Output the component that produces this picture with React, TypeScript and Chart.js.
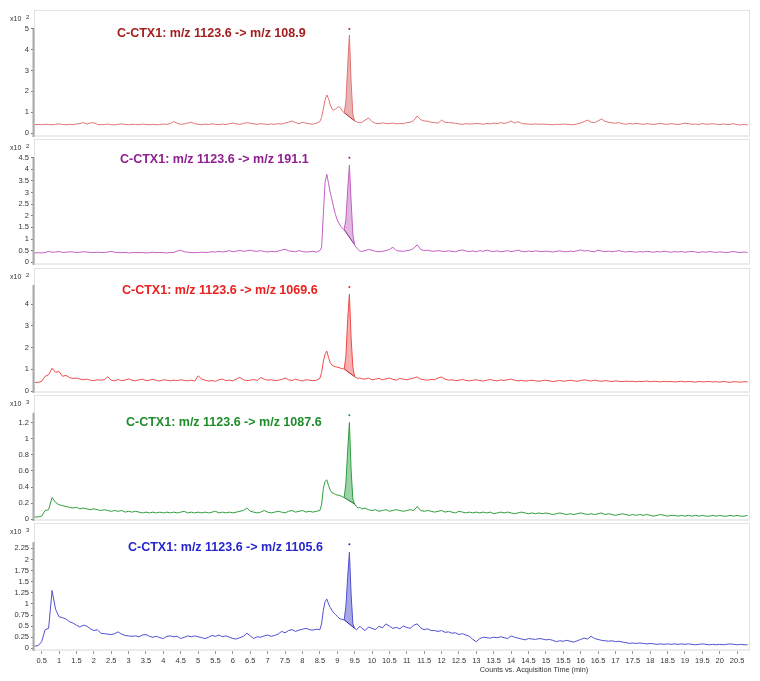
import React, { useEffect, useRef } from "react";
import { Chart, registerables } from "chart.js";
Chart.register(...registerables);

// ---------- DATA ----------
const times = [
  0.3, 0.4, 0.5, 0.6, 0.7, 0.8, 0.9, 1.0, 1.1, 1.2,
  1.3, 1.4, 1.5, 1.6, 1.7, 1.8, 1.9, 2.0, 2.1, 2.2,
  2.3, 2.4, 2.5, 2.6, 2.7, 2.8, 2.9, 3.0, 3.1, 3.2,
  3.3, 3.4, 3.5, 3.6, 3.7, 3.8, 3.9, 4.0, 4.1, 4.2,
  4.3, 4.4, 4.5, 4.6, 4.7, 4.8, 4.9, 5.0, 5.1, 5.2,
  5.3, 5.4, 5.5, 5.6, 5.7, 5.8, 5.9, 6.0, 6.1, 6.2,
  6.3, 6.4, 6.5, 6.6, 6.7, 6.8, 6.9, 7.0, 7.1, 7.2,
  7.3, 7.4, 7.5, 7.6, 7.7, 7.8, 7.9, 8.0, 8.1, 8.2,
  8.3, 8.4, 8.5,
  8.55, 8.6, 8.65, 8.7, 8.75, 8.8, 8.85, 8.9, 8.95, 9.0,
  9.05, 9.1, 9.15, 9.2, 9.25, 9.3, 9.35, 9.4, 9.45, 9.5,
  9.55, 9.6, 9.65, 9.7,
  9.8, 9.9, 10.0, 10.1, 10.2, 10.3, 10.4, 10.5, 10.6, 10.7,
  10.8, 10.9, 11.0, 11.1, 11.2, 11.3, 11.4, 11.5, 11.6, 11.7,
  11.8, 11.9, 12.0, 12.1, 12.2, 12.3, 12.4, 12.5, 12.6, 12.7,
  12.8, 12.9, 13.0, 13.1, 13.2, 13.3, 13.4, 13.5, 13.6, 13.7,
  13.8, 13.9, 14.0, 14.1, 14.2, 14.3, 14.4, 14.5, 14.6, 14.7,
  14.8, 14.9, 15.0, 15.1, 15.2, 15.3, 15.4, 15.5, 15.6, 15.7,
  15.8, 15.9, 16.0, 16.1, 16.2, 16.3, 16.4, 16.5, 16.6, 16.7,
  16.8, 16.9, 17.0, 17.1, 17.2, 17.3, 17.4, 17.5, 17.6, 17.7,
  17.8, 17.9, 18.0, 18.1, 18.2, 18.3, 18.4, 18.5, 18.6, 18.7,
  18.8, 18.9, 19.0, 19.1, 19.2, 19.3, 19.4, 19.5, 19.6, 19.7,
  19.8, 19.9, 20.0, 20.1, 20.2, 20.3, 20.4, 20.5, 20.6, 20.7,
  20.8,
];

// m/z 108.9 (x10^2)
const mz108 = [
  0.40, 0.41, 0.40, 0.42, 0.41, 0.40, 0.42, 0.44, 0.41, 0.40,
  0.42, 0.40, 0.43, 0.46, 0.50, 0.43, 0.48, 0.50, 0.42, 0.40,
  0.41, 0.43, 0.40, 0.39, 0.42, 0.44, 0.41, 0.40, 0.42, 0.41,
  0.40, 0.43, 0.41, 0.40, 0.42, 0.40, 0.41, 0.43, 0.42, 0.45,
  0.55, 0.47, 0.42, 0.44, 0.48, 0.52, 0.45, 0.42, 0.40, 0.43,
  0.41, 0.44, 0.42, 0.40, 0.43, 0.41, 0.45, 0.48, 0.44, 0.42,
  0.46, 0.50, 0.47, 0.44, 0.42, 0.45, 0.43, 0.41, 0.44, 0.42,
  0.45, 0.43, 0.48, 0.52, 0.58, 0.50, 0.45, 0.52, 0.47, 0.44,
  0.43, 0.47, 0.55,
  0.75, 1.15, 1.60, 1.83, 1.65, 1.35, 1.15, 1.10, 1.15, 1.22,
  1.27, 1.20, 1.05, 0.98, 1.50, 3.20, 4.71, 2.40, 0.90, 0.58,
  0.55, 0.50, 0.52, 0.50,
  0.62, 0.72, 0.55, 0.47, 0.45, 0.49, 0.46, 0.45, 0.48, 0.44,
  0.46, 0.45, 0.50, 0.52, 0.60, 0.82, 0.64, 0.58, 0.57, 0.52,
  0.50, 0.48, 0.62, 0.52, 0.50, 0.49, 0.47, 0.44, 0.42, 0.45,
  0.43, 0.44, 0.46, 0.45, 0.42, 0.46, 0.44, 0.48, 0.45, 0.50,
  0.46, 0.50, 0.58, 0.48, 0.55, 0.46, 0.44, 0.43, 0.42, 0.44,
  0.42, 0.43, 0.42, 0.41, 0.40, 0.42, 0.41, 0.43, 0.42, 0.41,
  0.40, 0.44, 0.48, 0.55, 0.62, 0.52, 0.50, 0.58, 0.68, 0.56,
  0.52, 0.49, 0.47, 0.50, 0.45, 0.42, 0.46, 0.43, 0.47, 0.44,
  0.42, 0.45, 0.43, 0.41, 0.44, 0.47, 0.43, 0.42, 0.45, 0.43,
  0.41, 0.44, 0.48, 0.45, 0.42, 0.43, 0.41, 0.46, 0.42, 0.43,
  0.45, 0.42, 0.40, 0.44, 0.41, 0.42, 0.45, 0.40, 0.39, 0.42,
  0.38,
];

// m/z 191.1 (x10^2)
const mz191 = [
  0.40, 0.41, 0.40, 0.42, 0.47, 0.43, 0.44, 0.46, 0.42, 0.43,
  0.45, 0.44, 0.42, 0.43, 0.45, 0.44, 0.42, 0.41, 0.43, 0.42,
  0.41, 0.44, 0.47, 0.43, 0.42, 0.41, 0.42, 0.40, 0.41, 0.42,
  0.41, 0.42, 0.40, 0.41, 0.43, 0.41, 0.42, 0.41, 0.40, 0.42,
  0.42, 0.48, 0.52, 0.45, 0.43, 0.42, 0.41, 0.42, 0.43, 0.42,
  0.43, 0.45, 0.44, 0.47, 0.44, 0.46, 0.50, 0.45, 0.48, 0.51,
  0.47, 0.49, 0.52, 0.48, 0.47, 0.50, 0.46, 0.44, 0.47, 0.45,
  0.48, 0.52, 0.56, 0.49, 0.47, 0.45, 0.50, 0.46, 0.44, 0.45,
  0.47, 0.44, 0.50,
  0.62, 2.05, 3.45, 3.79, 3.40, 3.00, 2.68, 2.35, 2.05, 1.82,
  1.68, 1.55, 1.46, 1.40, 1.85, 3.10, 4.19, 2.60, 1.20, 0.75,
  0.62, 0.55, 0.48, 0.46,
  0.50, 0.55, 0.52, 0.47, 0.45, 0.47, 0.50, 0.55, 0.65, 0.50,
  0.48, 0.47, 0.50, 0.52, 0.60, 0.75, 0.55, 0.50, 0.52, 0.48,
  0.47, 0.50, 0.48, 0.46, 0.49, 0.47, 0.45, 0.50, 0.53, 0.48,
  0.46, 0.48, 0.45, 0.50, 0.47, 0.52, 0.48, 0.46, 0.49, 0.45,
  0.47, 0.50, 0.46, 0.48, 0.52, 0.47, 0.45, 0.48, 0.46, 0.49,
  0.47, 0.45, 0.48, 0.46, 0.44, 0.47, 0.49, 0.46, 0.45, 0.48,
  0.46, 0.49, 0.53, 0.48, 0.50, 0.47, 0.45, 0.52, 0.48, 0.46,
  0.48, 0.45, 0.47, 0.50, 0.46, 0.44, 0.47, 0.45, 0.43, 0.46,
  0.44, 0.47, 0.45, 0.43, 0.46, 0.44, 0.48, 0.45, 0.43, 0.46,
  0.44, 0.46, 0.43, 0.45, 0.47, 0.44, 0.42, 0.45, 0.43, 0.46,
  0.44, 0.42, 0.45, 0.43, 0.41, 0.44, 0.46, 0.43, 0.42, 0.44,
  0.42,
];

// m/z 1069.6 (x10^2)
const mz1069 = [
  0.40, 0.40, 0.45, 0.68, 0.75, 1.05, 0.86, 0.90, 0.68, 0.72,
  0.62, 0.58, 0.60, 0.55, 0.52, 0.55, 0.50, 0.48, 0.52, 0.50,
  0.52, 0.66, 0.50, 0.47, 0.53, 0.48, 0.51, 0.56, 0.50, 0.47,
  0.52, 0.55, 0.48, 0.50, 0.54, 0.49, 0.46, 0.52, 0.50, 0.47,
  0.50, 0.48, 0.52, 0.49, 0.47, 0.50, 0.46, 0.70, 0.56, 0.50,
  0.46, 0.48, 0.45, 0.52, 0.55, 0.48, 0.50, 0.47, 0.55, 0.63,
  0.52, 0.48, 0.50, 0.53, 0.49, 0.62, 0.55, 0.50, 0.52, 0.48,
  0.50, 0.53, 0.60, 0.52, 0.48, 0.55, 0.50, 0.46, 0.52, 0.50,
  0.48, 0.50, 0.58,
  0.85, 1.35, 1.70, 1.84, 1.55, 1.30, 1.20, 1.15, 1.12, 1.10,
  1.08, 1.05, 1.03, 1.02, 1.60, 3.30, 4.46, 2.40, 1.10, 0.66,
  0.62, 0.58, 0.60, 0.57,
  0.55, 0.60, 0.52, 0.55, 0.58, 0.52, 0.56, 0.60, 0.54, 0.50,
  0.58, 0.55, 0.52, 0.56, 0.60, 0.65, 0.55, 0.52, 0.50, 0.54,
  0.52, 0.60, 0.65, 0.55, 0.50, 0.52, 0.48, 0.50, 0.53, 0.49,
  0.47, 0.50, 0.52, 0.48, 0.46, 0.50, 0.53, 0.49, 0.47, 0.51,
  0.49, 0.52, 0.55, 0.50, 0.47, 0.49, 0.46, 0.48, 0.50, 0.47,
  0.45, 0.48, 0.50, 0.47, 0.44, 0.46, 0.49, 0.45, 0.47, 0.50,
  0.47, 0.45, 0.48, 0.52, 0.49, 0.46, 0.50, 0.47, 0.45, 0.48,
  0.46, 0.44, 0.47, 0.45, 0.43, 0.46, 0.44, 0.45, 0.43, 0.45,
  0.44, 0.46, 0.43, 0.45, 0.44, 0.42, 0.45, 0.43, 0.44, 0.42,
  0.43, 0.45, 0.42, 0.44, 0.43, 0.41, 0.44, 0.42, 0.43, 0.44,
  0.42, 0.43, 0.41, 0.44, 0.42, 0.40, 0.43, 0.42, 0.41, 0.43,
  0.42,
];

// m/z 1087.6 (x10^3)
const mz1087 = [
  0.03, 0.03, 0.04, 0.11, 0.12, 0.27, 0.21, 0.18, 0.17, 0.16,
  0.15, 0.14, 0.15, 0.13, 0.14, 0.13, 0.12, 0.13, 0.12, 0.11,
  0.12, 0.11, 0.10, 0.11, 0.10, 0.11, 0.09, 0.10, 0.09, 0.10,
  0.09, 0.08, 0.09, 0.08, 0.09, 0.08, 0.09, 0.08, 0.09, 0.08,
  0.09, 0.08, 0.09, 0.10, 0.08, 0.09, 0.08, 0.09, 0.08, 0.09,
  0.08, 0.09, 0.10, 0.08, 0.09, 0.08, 0.09, 0.08, 0.09, 0.10,
  0.11, 0.14, 0.10, 0.09, 0.08, 0.09, 0.11, 0.09, 0.08, 0.09,
  0.10, 0.09, 0.08, 0.10, 0.11, 0.09, 0.10, 0.11, 0.09, 0.10,
  0.09, 0.10, 0.11,
  0.18, 0.38, 0.47, 0.49, 0.42, 0.36, 0.33, 0.32, 0.31, 0.30,
  0.30, 0.29, 0.28, 0.27, 0.45, 0.85, 1.20, 0.60, 0.25, 0.19,
  0.16, 0.14, 0.15, 0.13,
  0.14, 0.12, 0.11, 0.12, 0.10, 0.11, 0.12, 0.10, 0.11, 0.12,
  0.11, 0.10, 0.11, 0.12, 0.11, 0.16, 0.11, 0.10, 0.11, 0.10,
  0.09, 0.10, 0.11, 0.09, 0.10, 0.09, 0.08, 0.10, 0.09, 0.08,
  0.09, 0.08, 0.09, 0.08, 0.09, 0.08, 0.09, 0.07, 0.08, 0.09,
  0.08, 0.09, 0.08, 0.07, 0.08, 0.09, 0.08, 0.07, 0.08, 0.07,
  0.08, 0.07, 0.08, 0.07, 0.06, 0.07, 0.08, 0.07, 0.06, 0.07,
  0.06, 0.07, 0.08, 0.07, 0.06, 0.07, 0.06, 0.07, 0.08, 0.06,
  0.07, 0.06, 0.05, 0.06, 0.07, 0.06, 0.05, 0.06, 0.05, 0.06,
  0.05, 0.06, 0.05, 0.04, 0.05, 0.06, 0.05, 0.04, 0.05, 0.05,
  0.04, 0.05, 0.04, 0.05, 0.04, 0.05, 0.04, 0.05, 0.04, 0.04,
  0.05, 0.04, 0.05, 0.04, 0.04, 0.05, 0.04, 0.05, 0.04, 0.04,
  0.05,
];

// m/z 1105.6 (x10^3)
const mz1105 = [
  0.05, 0.06, 0.15, 0.42, 0.45, 1.30, 0.88, 0.71, 0.69, 0.66,
  0.60, 0.57, 0.52, 0.48, 0.52, 0.50, 0.44, 0.40, 0.42, 0.34,
  0.33, 0.32, 0.31, 0.33, 0.37, 0.32, 0.29, 0.28, 0.27, 0.28,
  0.26, 0.30, 0.31, 0.27, 0.25, 0.27, 0.24, 0.22, 0.27, 0.28,
  0.26, 0.27, 0.22, 0.25, 0.28, 0.26, 0.28, 0.26, 0.24, 0.22,
  0.25, 0.29, 0.27, 0.30, 0.26, 0.28, 0.25, 0.22, 0.21, 0.24,
  0.27, 0.34, 0.28, 0.22, 0.26, 0.25, 0.28, 0.30, 0.27, 0.29,
  0.32, 0.38, 0.35, 0.40, 0.42, 0.38, 0.41, 0.43, 0.45, 0.42,
  0.41, 0.43, 0.42,
  0.55, 0.85, 1.05, 1.11, 1.00, 0.92, 0.85, 0.80, 0.76, 0.72,
  0.68, 0.66, 0.65, 0.64, 0.95, 1.60, 2.16, 1.20, 0.55, 0.45,
  0.42, 0.45, 0.50, 0.46,
  0.40, 0.48, 0.45, 0.42, 0.50, 0.46, 0.55, 0.50, 0.45, 0.47,
  0.44, 0.50, 0.47, 0.45, 0.52, 0.55, 0.46, 0.42, 0.44, 0.40,
  0.40, 0.38, 0.40, 0.36, 0.37, 0.34, 0.35, 0.31, 0.33, 0.30,
  0.27, 0.20, 0.15, 0.22, 0.25, 0.24, 0.23, 0.25, 0.24, 0.26,
  0.24, 0.22, 0.28, 0.25, 0.23, 0.21, 0.19, 0.22, 0.21, 0.20,
  0.22, 0.21, 0.19, 0.20, 0.18, 0.15, 0.17, 0.16, 0.18, 0.16,
  0.14, 0.17, 0.20, 0.23, 0.21, 0.27, 0.22, 0.20, 0.18, 0.17,
  0.16, 0.17, 0.15, 0.16, 0.14, 0.13, 0.11, 0.12, 0.11, 0.12,
  0.11, 0.10, 0.11, 0.10, 0.09, 0.10, 0.09, 0.10, 0.09, 0.10,
  0.09, 0.10, 0.09, 0.10, 0.09, 0.08, 0.09, 0.10, 0.09, 0.08,
  0.09, 0.08, 0.09, 0.08, 0.09, 0.10, 0.09, 0.08, 0.09, 0.08,
  0.08,
];

const titles = [
  "C-CTX1: m/z 1123.6 -> m/z 108.9",
  "C-CTX1: m/z 1123.6 -> m/z 191.1",
  "C-CTX1: m/z 1123.6 -> m/z 1069.6",
  "C-CTX1: m/z 1123.6 -> m/z 1087.6",
  "C-CTX1: m/z 1123.6 -> m/z 1105.6",
];
const exponents = [2, 2, 2, 3, 3];
const yTicks1 = [0, 1, 2, 3, 4, 5];
const yTicks2 = [0, 0.5, 1, 1.5, 2, 2.5, 3, 3.5, 4, 4.5];
const yTicks3 = [0, 1, 2, 3, 4];
const yTicks4 = [0, 0.2, 0.4, 0.6, 0.8, 1, 1.2];
const yTicks5 = [0, 0.25, 0.5, 0.75, 1, 1.25, 1.5, 1.75, 2, 2.25];
const xTicks = [
  0.5, 1, 1.5, 2, 2.5, 3, 3.5, 4, 4.5, 5, 5.5, 6, 6.5, 7, 7.5, 8, 8.5, 9, 9.5, 10,
  10.5, 11, 11.5, 12, 12.5, 13, 13.5, 14, 14.5, 15, 15.5, 16, 16.5, 17, 17.5, 18,
  18.5, 19, 19.5, 20, 20.5,
];
const markerLevels = [5.0, 4.5, 4.8, 1.29, 2.34];
const axisTops = [5, 4.5, 4.89, 1.32, 2.39];
const peakStart = 9.2;
const peakEnd = 9.5;
const peakApex = 9.35;
const xTitle = "Counts vs. Acquisition Time (min)";

// ---------- LAYOUT / STYLE ----------
const FONT = '"Liberation Sans", Arial, sans-serif';
const X_MIN = 0.28;
const X_MAX = 20.87;
const boxes = [
  { top: 10, bottom: 137 },
  { top: 139, bottom: 265 },
  { top: 268, bottom: 393 },
  { top: 395, bottom: 521 },
  { top: 523, bottom: 651 },
];
const yRanges = [
  [-0.19, 5.91],
  [-0.12, 5.31],
  [-0.09, 5.67],
  [-0.02, 1.54],
  [-0.06, 2.82],
];
const titlePos = [
  { x: 117, y: 34 },
  { x: 120, y: 160 },
  { x: 122, y: 291 },
  { x: 126, y: 423 },
  { x: 128, y: 548 },
];
const styles = [
  { line: "#e07474", base: "#a52a2a", fill: "rgba(214,104,104,0.5)", title: "#a31d1d" },
  { line: "#c25fc2", base: "#862486", fill: "rgba(196,112,196,0.5)", title: "#8f1f8f" },
  { line: "#f04a4a", base: "#b01c1c", fill: "rgba(240,96,96,0.5)", title: "#e82020" },
  { line: "#2f9e3f", base: "#17652a", fill: "rgba(70,175,95,0.55)", title: "#1f8c2c" },
  { line: "#5050d2", base: "#26268c", fill: "rgba(96,96,212,0.55)", title: "#2626cc" },
];
const seriesList = [mz108, mz191, mz1069, mz1087, mz1105];
const yTickList = [yTicks1, yTicks2, yTicks3, yTicks4, yTicks5];

function Panel({ idx }: { idx: number }) {
  const ref = useRef<HTMLCanvasElement | null>(null);
  const isLast = idx === 4;
  const box = boxes[idx];
  const canvasTop = box.top - 10;
  const h = isLast ? 10 + (box.bottom - box.top) + 30 : box.bottom - box.top + 20;

  useEffect(() => {
    if (!ref.current) return;
    const vals = seriesList[idx];
    const st = styles[idx];
    const pts = times.map((t, i) => ({ x: t, y: vals[i] }));
    const peak = pts.filter((p) => p.x >= peakStart - 1e-9 && p.x <= peakEnd + 1e-9);
    const base = [peak[0], peak[peak.length - 1]];

    const decor = {
      id: "decor" + idx,
      beforeDatasetsDraw(chart: any) {
        const { ctx, chartArea: a } = chart;
        ctx.save();
        ctx.strokeStyle = "#e2e2e2";
        ctx.lineWidth = 1;
        ctx.strokeRect(a.left + 0.5, a.top + 0.5, a.right - a.left - 1, a.bottom - a.top - 1);
        ctx.fillStyle = "#ececec";
        ctx.fillRect(a.left, a.bottom - 2, a.right - a.left, 2);
        ctx.font = `bold 12.5px ${FONT}`;
        ctx.fillStyle = st.title;
        ctx.textBaseline = "middle";
        ctx.textAlign = "left";
        ctx.fillText(titles[idx], titlePos[idx].x, titlePos[idx].y - canvasTop);
        ctx.restore();
      },
      afterDraw(chart: any) {
        const { ctx, chartArea: a, scales } = chart;
        const ys = scales.y;
        ctx.save();
        const yTop = ys.getPixelForValue(axisTops[idx]);
        ctx.fillStyle = "#a9a9a9";
        ctx.fillRect(a.left - 1.5, yTop, 2, a.bottom - yTop);
        ctx.fillStyle = "#333";
        ctx.textBaseline = "middle";
        ctx.textAlign = "left";
        ctx.font = `7px ${FONT}`;
        const ly = a.top + 9.5;
        ctx.fillText("x10", 10, ly);
        ctx.font = `6px ${FONT}`;
        ctx.fillText(String(exponents[idx]), 26, ly - 2.5);
        if (isLast) {
          ctx.font = `7.3px ${FONT}`;
          ctx.textAlign = "center";
          ctx.fillText(xTitle, 534, 670 - canvasTop);
        }
        ctx.restore();
      },
    };

    const tickFont = { family: FONT, size: 7.5 };
    const xScale: any = {
      type: "linear",
      min: X_MIN,
      max: X_MAX,
      display: isLast,
      afterBuildTicks: (s: any) => {
        s.ticks = xTicks.map((v) => ({ value: v }));
      },
      grid: { drawOnChartArea: false, drawTicks: true, tickLength: 3, color: "#9a9a9a" },
      border: { display: false },
      ticks: {
        font: tickFont,
        color: "#333",
        padding: 2,
        maxRotation: 0,
        autoSkip: false,
        callback: (v: any) => String(v),
      },
    };
    if (isLast) {
      xScale.afterFit = (s: any) => {
        s.height = 30;
      };
    }

    const chart = new Chart(ref.current, {
      type: "line",
      data: {
        datasets: [
          { data: pts, borderColor: st.line, borderWidth: 1, pointRadius: 0, fill: false, tension: 0, order: 0 },
          { data: base, borderColor: st.base, borderWidth: 1, pointRadius: 0, fill: false, order: 1 },
          {
            data: peak,
            borderColor: "rgba(0,0,0,0)",
            borderWidth: 0,
            backgroundColor: st.fill,
            fill: "shape",
            pointRadius: 0,
            order: 2,
          },
          {
            data: [{ x: peakApex, y: markerLevels[idx] }],
            showLine: false,
            pointRadius: 1,
            pointBorderWidth: 0,
            pointBackgroundColor: st.title,
            order: 3,
          },
        ],
      } as any,
      options: {
        animation: false,
        responsive: false,
        maintainAspectRatio: false,
        events: [],
        layout: { padding: { top: 10, bottom: isLast ? 0 : 10, left: 0, right: 10 } },
        plugins: {
          legend: { display: false },
          tooltip: { enabled: false },
          title: { display: false },
        },
        scales: {
          x: xScale,
          y: {
            type: "linear",
            min: yRanges[idx][0],
            max: yRanges[idx][1],
            afterBuildTicks: (s: any) => {
              s.ticks = yTickList[idx].map((v) => ({ value: v }));
            },
            afterFit: (s: any) => {
              s.width = 34;
            },
            grid: { drawOnChartArea: false, drawTicks: true, tickLength: 3, color: "#777" },
            border: { display: false },
            ticks: {
              font: tickFont,
              color: "#333",
              padding: 2,
              autoSkip: false,
              callback: (v: any) => String(v),
            },
          },
        },
      } as any,
      plugins: [decor],
    });
    return () => chart.destroy();
  }, [idx]);

  return (
    <canvas
      ref={ref}
      width={760}
      height={h}
      style={{ position: "absolute", left: 0, top: canvasTop, width: 760, height: h }}
    />
  );
}

export default function App() {
  return (
    <div
      style={{
        position: "absolute",
        left: 0,
        top: 0,
        width: 760,
        height: 681,
        background: "#fff",
        overflow: "hidden",
      }}
    >
      {[0, 1, 2, 3, 4].map((i) => (
        <Panel key={i} idx={i} />
      ))}
    </div>
  );
}
